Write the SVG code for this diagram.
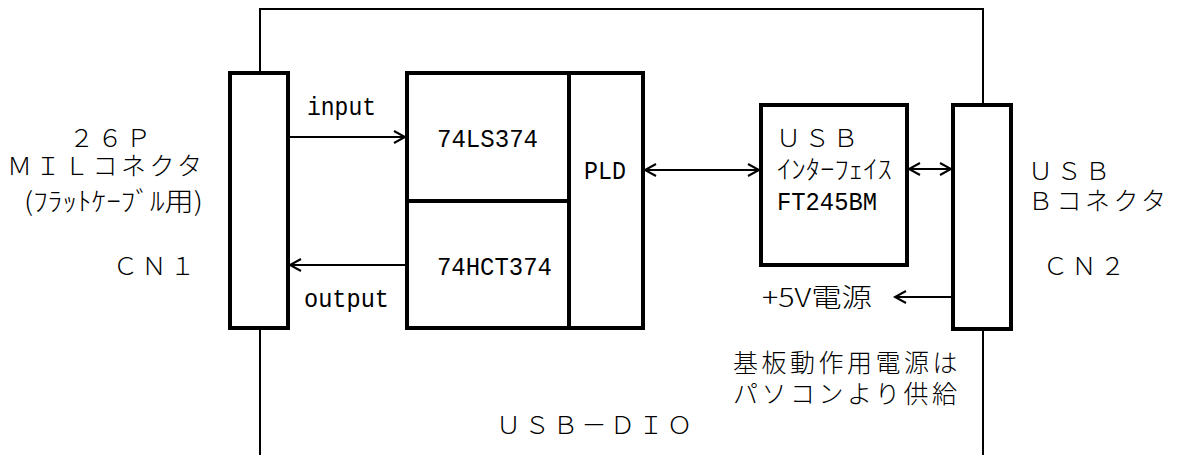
<svg xmlns="http://www.w3.org/2000/svg" width="1177" height="455" viewBox="0 0 1177 455">
<style>
.box{fill:none;stroke:#000;stroke-width:4;stroke-linejoin:miter}
.thin{fill:none;stroke:#000;stroke-width:2}
.ln{fill:none;stroke:#000;stroke-width:2}
.jp{font-family:"Noto Sans CJK JP","Liberation Sans",sans-serif;font-size:25px;font-weight:300;letter-spacing:3.5px;fill:#000}
.kana{font-family:"Noto Sans CJK JP","Liberation Sans",sans-serif;font-size:26px;font-weight:300;fill:#000}
.mono{font-family:"Liberation Mono","DejaVu Sans Mono",monospace;font-size:26px;fill:#000}
</style>
<defs>
<marker id="ah" markerUnits="userSpaceOnUse" markerWidth="14" markerHeight="16" viewBox="-12 -8 14 16" refX="0" refY="0" orient="auto-start-reverse" overflow="visible">
<path d="M-11,-6 L0,0 L-11,6" fill="none" stroke="#000" stroke-width="2"/>
</marker>
</defs>
<rect width="1177" height="455" fill="#fff"/>
<g id="board">
<path class="thin" d="M260,73 V9 H983 V105"/>
<path class="thin" d="M260,328 V455"/>
<path class="thin" d="M983,329 V455"/>
<text class="jp" x="496" y="434">ＵＳＢ－ＤＩＯ</text>
</g>
<g id="cn1">
<rect class="box" x="230" y="73" width="58" height="255"/>
<text class="jp" x="69" y="147">２６Ｐ</text>
<text class="jp" x="7" y="175">ＭＩＬコネクタ</text>
<text class="kana" x="24" y="211" textLength="179" lengthAdjust="spacingAndGlyphs">(ﾌﾗｯﾄｹｰﾌﾞﾙ用)</text>
<text class="jp" x="113" y="275">ＣＮ１</text>
</g>
<g id="ls374">
<path class="box" d="M407,201 H569"/>
<text class="mono" x="437" y="147" textLength="101" lengthAdjust="spacingAndGlyphs">74LS374</text>
</g>
<g id="hct374">
<text class="mono" x="437" y="275" textLength="115" lengthAdjust="spacingAndGlyphs">74HCT374</text>
</g>
<g id="pld">
<rect class="box" x="407" y="73" width="236" height="255"/>
<path class="box" d="M569,73 V328"/>
<text class="mono" x="584" y="179" textLength="42" lengthAdjust="spacingAndGlyphs">PLD</text>
</g>
<g id="usbif">
<rect class="box" x="761" y="105" width="146" height="160"/>
<text class="jp" x="776" y="147">ＵＳＢ</text>
<text class="kana" x="777" y="179" textLength="115" lengthAdjust="spacingAndGlyphs">ｲﾝﾀｰﾌｪｲｽ</text>
<text class="mono" x="777" y="210" textLength="100" lengthAdjust="spacingAndGlyphs">FT245BM</text>
</g>
<g id="cn2">
<rect class="box" x="953" y="105" width="58" height="224"/>
<text class="jp" x="1028" y="180">ＵＳＢ</text>
<text class="jp" x="1028" y="210">Ｂコネクタ</text>
<text class="jp" x="1043" y="275">ＣＮ２</text>
</g>
<g id="notes">
<text class="kana" x="762" y="307" textLength="110" lengthAdjust="spacingAndGlyphs">+5V電源</text>
<text class="jp" x="733" y="372">基板動作用電源は</text>
<text class="jp" x="733" y="403">パソコンより供給</text>
</g>
<g id="connectors">
<line class="ln" x1="290" y1="137" x2="405" y2="137" marker-end="url(#ah)"/>
<line class="ln" x1="405" y1="265" x2="290" y2="265" marker-end="url(#ah)"/>
<line class="ln" x1="645" y1="170" x2="759" y2="170" marker-start="url(#ah)" marker-end="url(#ah)"/>
<line class="ln" x1="909" y1="169" x2="951" y2="169" marker-start="url(#ah)" marker-end="url(#ah)"/>
<line class="ln" x1="951" y1="297" x2="895" y2="297" marker-end="url(#ah)"/>
<text class="mono" x="307" y="115" textLength="69" lengthAdjust="spacingAndGlyphs" style="font-size:25px">input</text>
<text class="mono" x="304" y="307" textLength="85" lengthAdjust="spacingAndGlyphs" style="font-size:25px">output</text>
</g>
</svg>
